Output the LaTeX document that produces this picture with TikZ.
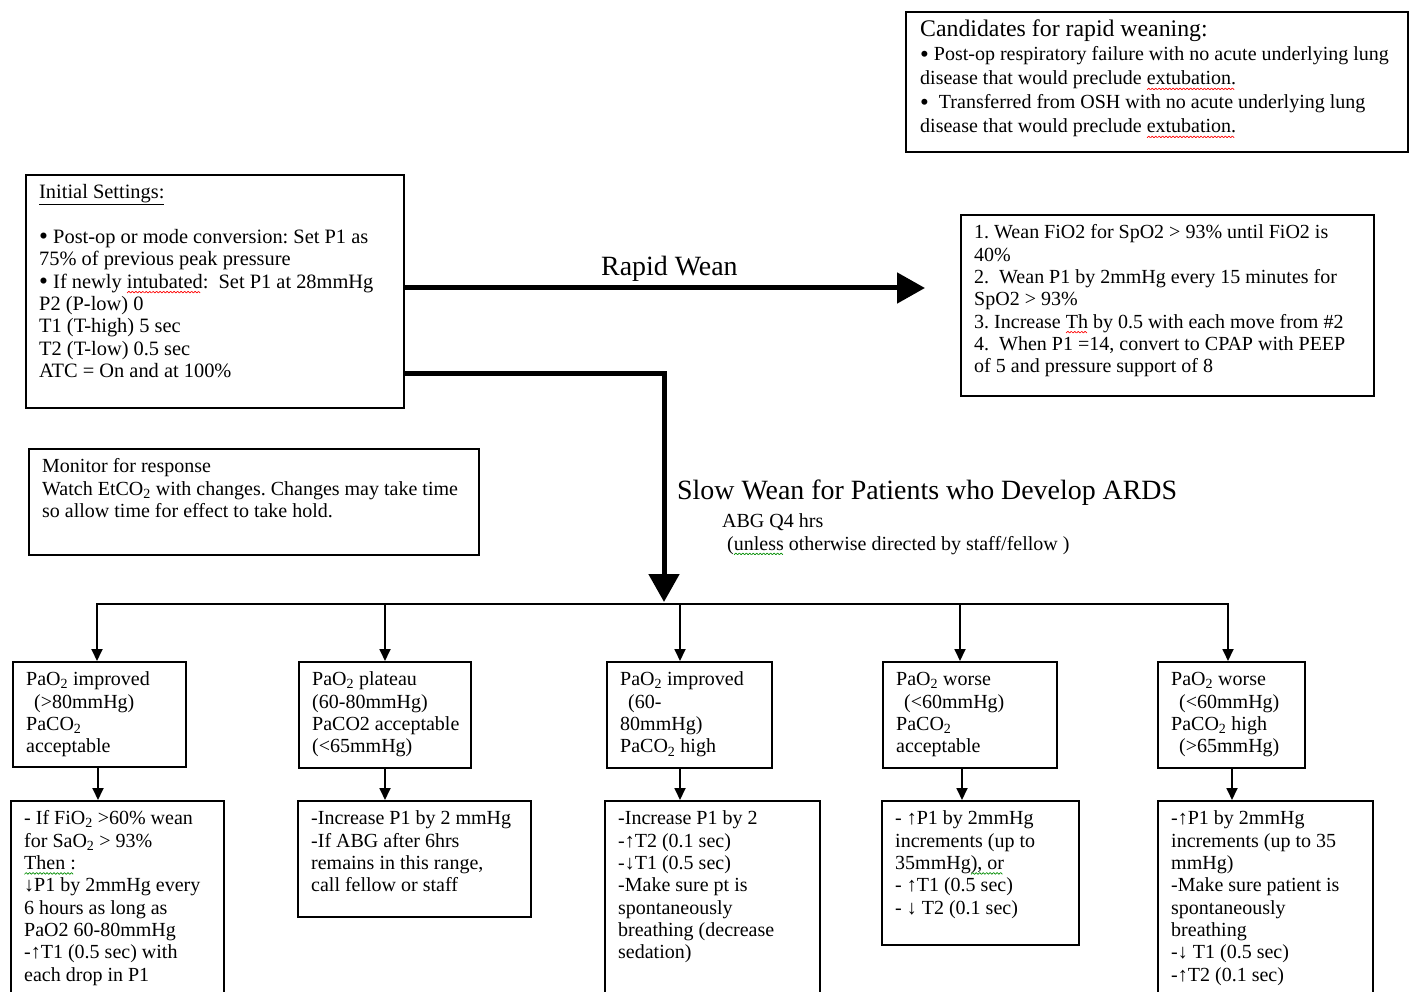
\documentclass[tikz,border=0pt]{standalone}
\usepackage{fontspec}
\setmainfont{Liberation Serif}
\usetikzlibrary{arrows.meta}
\frenchspacing
\newcommand\fs{\fontsize{20}{22.35}\selectfont}
\newcommand\fsi{\fontsize{20.4}{22.35}\selectfont}
\newcommand\fsc{\fontsize{20}{24}\selectfont}
\newcommand\fsh{\fontsize{23.8}{24}\selectfont}
\newcommand\fsl{\fontsize{27.9}{30}\selectfont}
\newsavebox\sqbox
\newcommand\zz[1]{\raisebox{-5pt}{\textcolor{#1}{\rotatebox{45}{\rule{2.4pt}{0.7pt}}}}\kern-0.45pt\raisebox{-3.3pt}{\textcolor{#1}{\rotatebox{-45}{\rule{2.4pt}{0.7pt}}}}\kern-0.45pt}
\newcommand\sqmark[2]{\sbox\sqbox{#2}\rlap{\usebox\sqbox}\hbox to\wd\sqbox{\leaders\hbox{\zz{#1}}\hfill}}
\newcommand\redsq[1]{\sqmark{red}{#1}}
\newcommand\greensq[1]{\sqmark{green!55!black}{#1}}
\newcommand\sub[1]{\textsubscript{#1}}
\newcommand\bul{\raisebox{-1.3pt}{\scalebox{1.25}{\textbullet}}}
\newcommand\mybox[5]{\node[box, minimum width={(#4-#2)*1pt}, minimum height={(#5-#3)*1pt}] (#1) at (#2,#3) {};}
\newcommand\boxtext[2]{\node[txt] (#1t) at ([shift={(14pt,-9pt)}]#1.north west) {\strut #2};}
\tikzset{
  box/.style={draw, line width=1.8pt, inner sep=0pt, anchor=north west},
  txt/.style={align=left, inner sep=0pt, font=\fs, anchor=north west},
  lbl/.style={inner sep=0pt, anchor=base west},
  thickarr/.style={line width=5pt, -{Triangle[length=28pt,width=30pt]}},
  thinarr/.style={line width=1.8pt, -{Triangle[length=12pt,width=11pt]}},
  thinline/.style={line width=1.8pt}
}
\begin{document}
\begin{tikzpicture}[x=1pt,y=-1pt]
\useasboundingbox (0,0) rectangle (1414,992);
\clip (0,0) rectangle (1414,992);
% candidates
\mybox{cand}{905}{11}{1407}{151}
\node[txt, font=\fsc] (candt) at ([shift={(15pt,-9pt)}]cand.north west) {{\fsh\strut Candidates for rapid weaning:}\\
\bul\ Post-op respiratory failure with no acute underlying lung\\
disease that would preclude \redsq{extubation.}\\
\bul\ \ Transferred from OSH with no acute underlying lung\\
disease that would preclude \redsq{extubation.}};
% initial settings
\mybox{init}{25}{174}{403}{407}
\node[txt, font=\fsi] (initt) at ([shift={(14pt,-9pt)}]init.north west) {\strut\underline{Initial Settings:}\\[22.35pt]
\bul\ Post-op or mode conversion: Set P1 as\\
75\% of previous peak pressure\\
\bul\ If newly \redsq{intubated}:\ \ Set P1 at 28mmHg\\
P2 (P-low) 0\\
T1 (T-high) 5 sec\\
T2 (T-low) 0.5 sec\\
ATC = On and at 100\%};
% rapid wean box
\mybox{rapid}{960}{214}{1373}{395}
\boxtext{rapid}{1. Wean FiO2 for SpO2 > 93\% until FiO2 is\\
40\%\\
2.\ \ Wean P1 by 2mmHg every 15 minutes for\\
SpO2 > 93\%\\
3. Increase \redsq{Th} by 0.5 with each move from \#2\\
4.\ \ When P1 =14, convert to CPAP with PEEP\\
of 5 and pressure support of 8}
% monitor
\mybox{mon}{28}{448}{478}{554}
\boxtext{mon}{Monitor for response\\
Watch EtCO\sub{2} with changes. Changes may take time\\
so allow time for effect to take hold.}
% labels
\node[lbl, font=\fsl] (rwl) at (601,276) {Rapid Wean};
\node[lbl, font=\fsl] (swl) at (677,499) {Slow Wean for Patients who Develop ARDS};
\node[lbl, font=\fs] (abg) at (722,527) {ABG Q4 hrs};
\node[lbl, font=\fs] (abg2) at (727,550) {(\greensq{unless} otherwise directed by staff/fellow )};
% top row boxes
\mybox{b1}{12}{661}{185}{766}
\boxtext{b1}{PaO\sub{2} improved\\
\hspace{8pt}(>80mmHg)\\
PaCO\sub{2}\\
acceptable}
\mybox{b2}{298}{661}{470}{767}
\boxtext{b2}{PaO\sub{2} plateau\\
(60-80mmHg)\\
PaCO2 acceptable\\
(<65mmHg)}
\mybox{b3}{606}{661}{771}{767}
\boxtext{b3}{PaO\sub{2} improved\\
\hspace{8pt}(60-\\
80mmHg)\\
PaCO\sub{2} high}
\mybox{b4}{882}{661}{1056}{767}
\boxtext{b4}{PaO\sub{2} worse\\
\hspace{8pt}(<60mmHg)\\
PaCO\sub{2}\\
acceptable}
\mybox{b5}{1157}{661}{1304}{767}
\boxtext{b5}{PaO\sub{2} worse\\
\hspace{8pt}(<60mmHg)\\
PaCO\sub{2} high\\
\hspace{8pt}(>65mmHg)}
% lower row boxes
\mybox{l1}{10}{800}{223}{1005}
\boxtext{l1}{- If FiO\sub{2} >60\% wean\\
for SaO\sub{2} > 93\%\\
\greensq{Then :}\\
↓P1 by 2mmHg every\\
6 hours as long as\\
PaO2 60-80mmHg\\
-↑T1 (0.5 sec) with\\
each drop in P1}
\mybox{l2}{297}{800}{530}{916}
\boxtext{l2}{-Increase P1 by 2 mmHg\\
-If ABG after 6hrs\\
remains in this range,\\
call fellow or staff}
\mybox{l3}{604}{800}{819}{1005}
\boxtext{l3}{-Increase P1 by 2\\
-↑T2 (0.1 sec)\\
-↓T1 (0.5 sec)\\
-Make sure pt is\\
spontaneously\\
breathing (decrease\\
sedation)}
\mybox{l4}{881}{800}{1078}{944}
\boxtext{l4}{- ↑P1 by 2mmHg\\
increments (up to\\
35mmHg\greensq{), or}\\
- ↑T1 (0.5 sec)\\
- ↓ T2 (0.1 sec)}
\mybox{l5}{1157}{800}{1372}{1005}
\boxtext{l5}{-↑P1 by 2mmHg\\
increments (up to 35\\
mmHg)\\
-Make sure patient is\\
spontaneously\\
breathing\\
-↓ T1 (0.5 sec)\\
-↑T2 (0.1 sec)}
% connectors
\coordinate (rwEnd) at (925,288);
\draw[thickarr] (init.east |- rwEnd) -- (rwEnd);
\coordinate (swStart) at (403,373);
\coordinate (hub) at (664,602);
\draw[thickarr] (init.east |- swStart) -| (hub);
\coordinate (t1) at (97,604);
\coordinate (t2) at (385,604);
\coordinate (t3) at (680,604);
\coordinate (t4) at (960,604);
\coordinate (t5) at (1228,604);
\draw[thinline] ([xshift=-0.9pt]t1) -- ([xshift=0.9pt]t5);
\foreach \i in {1,...,5}{\draw[thinarr] (t\i) -- (t\i |- b\i.north);}
\coordinate (m1) at (98,0);
\coordinate (m2) at (385,0);
\coordinate (m3) at (680,0);
\coordinate (m4) at (962,0);
\coordinate (m5) at (1232,0);
\foreach \i in {1,...,5}{\draw[thinarr] (b\i.south -| m\i) -- (l\i.north -| m\i);}
\end{tikzpicture}
\end{document}
